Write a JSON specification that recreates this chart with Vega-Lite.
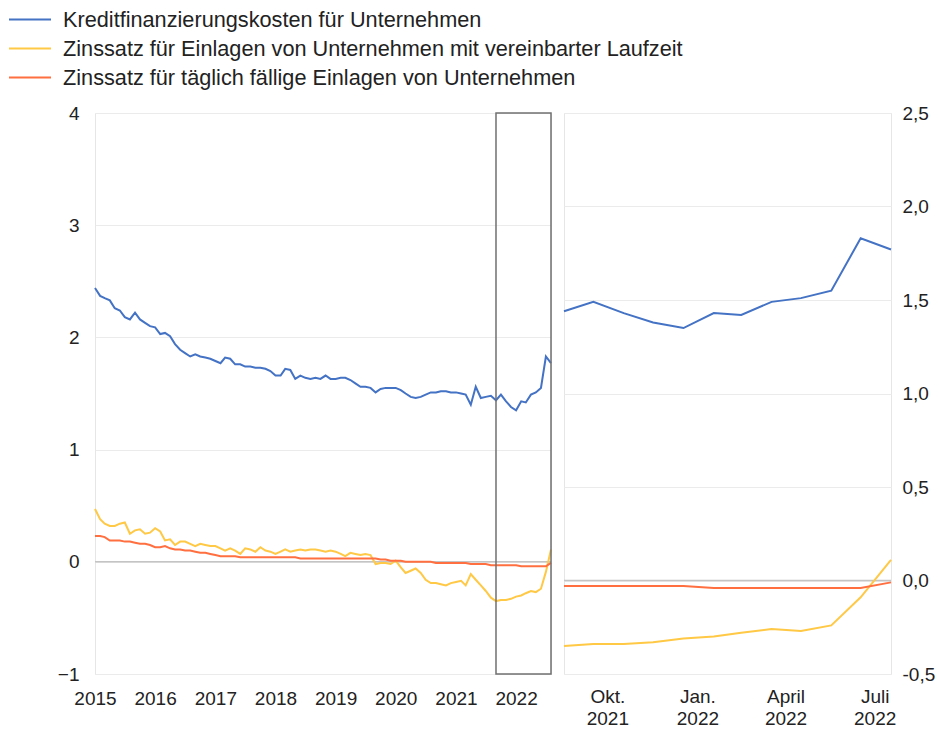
{
  "$schema": "https://vega.github.io/schema/vega-lite/v6.json",
  "padding": {"left": 7, "top": 4, "right": 5, "bottom": 0},
  "background": "white",
  "bounds": "flush",
  "spacing": 13,
  "config": {
    "font": "Liberation Sans",
    "view": {"stroke": "#e6e6e6", "strokeWidth": 1},
    "axis": {"labelFont": "Liberation Sans", "labelFontSize": 19, "labelColor": "#222222", "ticks": false, "domain": false, "gridColor": "#ebebeb", "gridWidth": 1, "title": null}
  },
  "datasets": {
    "rates": [
      {"date":"2015/01/01","k":2.44,"z":0.47,"t":0.23},
      {"date":"2015/02/01","k":2.37,"z":0.38,"t":0.23},
      {"date":"2015/03/01","k":2.35,"z":0.34,"t":0.22},
      {"date":"2015/04/01","k":2.33,"z":0.32,"t":0.19},
      {"date":"2015/05/01","k":2.26,"z":0.32,"t":0.19},
      {"date":"2015/06/01","k":2.24,"z":0.34,"t":0.19},
      {"date":"2015/07/01","k":2.18,"z":0.35,"t":0.18},
      {"date":"2015/08/01","k":2.16,"z":0.25,"t":0.18},
      {"date":"2015/09/01","k":2.22,"z":0.28,"t":0.17},
      {"date":"2015/10/01","k":2.16,"z":0.29,"t":0.16},
      {"date":"2015/11/01","k":2.13,"z":0.25,"t":0.16},
      {"date":"2015/12/01","k":2.10,"z":0.26,"t":0.15},
      {"date":"2016/01/01","k":2.09,"z":0.30,"t":0.13},
      {"date":"2016/02/01","k":2.03,"z":0.27,"t":0.13},
      {"date":"2016/03/01","k":2.04,"z":0.19,"t":0.14},
      {"date":"2016/04/01","k":2.01,"z":0.20,"t":0.12},
      {"date":"2016/05/01","k":1.94,"z":0.15,"t":0.11},
      {"date":"2016/06/01","k":1.89,"z":0.18,"t":0.11},
      {"date":"2016/07/01","k":1.86,"z":0.18,"t":0.10},
      {"date":"2016/08/01","k":1.83,"z":0.16,"t":0.10},
      {"date":"2016/09/01","k":1.85,"z":0.14,"t":0.09},
      {"date":"2016/10/01","k":1.83,"z":0.16,"t":0.08},
      {"date":"2016/11/01","k":1.82,"z":0.15,"t":0.08},
      {"date":"2016/12/01","k":1.81,"z":0.14,"t":0.07},
      {"date":"2017/01/01","k":1.79,"z":0.14,"t":0.06},
      {"date":"2017/02/01","k":1.77,"z":0.12,"t":0.05},
      {"date":"2017/03/01","k":1.82,"z":0.10,"t":0.05},
      {"date":"2017/04/01","k":1.81,"z":0.12,"t":0.05},
      {"date":"2017/05/01","k":1.76,"z":0.10,"t":0.05},
      {"date":"2017/06/01","k":1.76,"z":0.07,"t":0.04},
      {"date":"2017/07/01","k":1.74,"z":0.12,"t":0.04},
      {"date":"2017/08/01","k":1.74,"z":0.11,"t":0.04},
      {"date":"2017/09/01","k":1.73,"z":0.09,"t":0.04},
      {"date":"2017/10/01","k":1.73,"z":0.13,"t":0.04},
      {"date":"2017/11/01","k":1.72,"z":0.10,"t":0.04},
      {"date":"2017/12/01","k":1.70,"z":0.09,"t":0.04},
      {"date":"2018/01/01","k":1.66,"z":0.07,"t":0.04},
      {"date":"2018/02/01","k":1.66,"z":0.09,"t":0.04},
      {"date":"2018/03/01","k":1.72,"z":0.11,"t":0.04},
      {"date":"2018/04/01","k":1.71,"z":0.09,"t":0.04},
      {"date":"2018/05/01","k":1.63,"z":0.10,"t":0.04},
      {"date":"2018/06/01","k":1.66,"z":0.11,"t":0.03},
      {"date":"2018/07/01","k":1.64,"z":0.10,"t":0.03},
      {"date":"2018/08/01","k":1.63,"z":0.11,"t":0.03},
      {"date":"2018/09/01","k":1.64,"z":0.11,"t":0.03},
      {"date":"2018/10/01","k":1.63,"z":0.10,"t":0.03},
      {"date":"2018/11/01","k":1.66,"z":0.09,"t":0.03},
      {"date":"2018/12/01","k":1.63,"z":0.10,"t":0.03},
      {"date":"2019/01/01","k":1.63,"z":0.09,"t":0.03},
      {"date":"2019/02/01","k":1.64,"z":0.07,"t":0.03},
      {"date":"2019/03/01","k":1.64,"z":0.05,"t":0.03},
      {"date":"2019/04/01","k":1.62,"z":0.08,"t":0.03},
      {"date":"2019/05/01","k":1.59,"z":0.07,"t":0.03},
      {"date":"2019/06/01","k":1.56,"z":0.06,"t":0.03},
      {"date":"2019/07/01","k":1.56,"z":0.07,"t":0.03},
      {"date":"2019/08/01","k":1.55,"z":0.06,"t":0.03},
      {"date":"2019/09/01","k":1.51,"z":-0.02,"t":0.03},
      {"date":"2019/10/01","k":1.54,"z":-0.01,"t":0.02},
      {"date":"2019/11/01","k":1.55,"z":-0.01,"t":0.02},
      {"date":"2019/12/01","k":1.55,"z":-0.02,"t":0.01},
      {"date":"2020/01/01","k":1.55,"z":0.01,"t":0.01},
      {"date":"2020/02/01","k":1.53,"z":-0.05,"t":0.01},
      {"date":"2020/03/01","k":1.50,"z":-0.10,"t":0.00},
      {"date":"2020/04/01","k":1.47,"z":-0.08,"t":0.00},
      {"date":"2020/05/01","k":1.46,"z":-0.06,"t":0.00},
      {"date":"2020/06/01","k":1.47,"z":-0.10,"t":0.00},
      {"date":"2020/07/01","k":1.49,"z":-0.16,"t":0.00},
      {"date":"2020/08/01","k":1.51,"z":-0.19,"t":0.00},
      {"date":"2020/09/01","k":1.51,"z":-0.19,"t":-0.01},
      {"date":"2020/10/01","k":1.52,"z":-0.20,"t":-0.01},
      {"date":"2020/11/01","k":1.52,"z":-0.21,"t":-0.01},
      {"date":"2020/12/01","k":1.51,"z":-0.19,"t":-0.01},
      {"date":"2021/01/01","k":1.51,"z":-0.18,"t":-0.01},
      {"date":"2021/02/01","k":1.50,"z":-0.17,"t":-0.01},
      {"date":"2021/03/01","k":1.49,"z":-0.21,"t":-0.01},
      {"date":"2021/04/01","k":1.40,"z":-0.11,"t":-0.02},
      {"date":"2021/05/01","k":1.56,"z":-0.16,"t":-0.02},
      {"date":"2021/06/01","k":1.46,"z":-0.21,"t":-0.02},
      {"date":"2021/07/01","k":1.47,"z":-0.26,"t":-0.02},
      {"date":"2021/08/01","k":1.48,"z":-0.32,"t":-0.03},
      {"date":"2021/09/01","k":1.44,"z":-0.35,"t":-0.03},
      {"date":"2021/10/01","k":1.49,"z":-0.34,"t":-0.03},
      {"date":"2021/11/01","k":1.43,"z":-0.34,"t":-0.03},
      {"date":"2021/12/01","k":1.38,"z":-0.33,"t":-0.03},
      {"date":"2022/01/01","k":1.35,"z":-0.31,"t":-0.03},
      {"date":"2022/02/01","k":1.43,"z":-0.30,"t":-0.04},
      {"date":"2022/03/01","k":1.42,"z":-0.28,"t":-0.04},
      {"date":"2022/04/01","k":1.49,"z":-0.26,"t":-0.04},
      {"date":"2022/05/01","k":1.51,"z":-0.27,"t":-0.04},
      {"date":"2022/06/01","k":1.55,"z":-0.24,"t":-0.04},
      {"date":"2022/07/01","k":1.83,"z":-0.09,"t":-0.04},
      {"date":"2022/08/01","k":1.77,"z":0.11,"t":-0.01}
    ],
    "box": [{"x0":"2021/09/01","x1":"2022/08/01","y0":-1,"y1":4}],
    "zero": [{"v":0}]
  },
  "resolve": {"scale": {"color": "independent"}, "legend": {"color": "independent"}},
  "hconcat": [
    {
      "width": 456,
      "height": 561,
      "layer": [
        {
          "data": {"name": "zero"},
          "mark": {"type": "rule", "color": "#c4c4c4", "strokeWidth": 1.5},
          "encoding": {"y": {"field": "v", "type": "quantitative", "scale": {"domain": [-1, 4], "nice": false}}}
        },
        {
          "data": {"name": "rates"},
          "transform": [{"fold": ["k", "z", "t"], "as": ["key", "value"]}],
          "mark": {"type": "line", "strokeWidth": 2},
          "encoding": {
            "x": {"field": "date", "type": "temporal",
                  "scale": {"domain": [{"year": 2015, "month": 1, "date": 1}, {"year": 2022, "month": 8, "date": 1}], "nice": false},
                  "axis": {"values": [{"year": 2015, "month": 1, "date": 1}, {"year": 2016, "month": 1, "date": 1}, {"year": 2017, "month": 1, "date": 1}, {"year": 2018, "month": 1, "date": 1}, {"year": 2019, "month": 1, "date": 1}, {"year": 2020, "month": 1, "date": 1}, {"year": 2021, "month": 1, "date": 1}, {"year": 2022, "month": 1, "date": 1}],
                           "format": "%Y", "grid": false, "labelPadding": 15, "labelFlush": false, "labelOverlap": false}},
            "y": {"field": "value", "type": "quantitative",
                  "scale": {"domain": [-1, 4], "nice": false},
                  "axis": {"values": [-1, 0, 1, 2, 3, 4], "format": "d", "grid": true, "labelPadding": 16}},
            "color": {"field": "key", "type": "nominal",
                      "scale": {"domain": ["k", "z", "t"], "range": ["#4472c4", "#ffc845", "#ff6f40"]},
                      "legend": {"orient": "none", "legendX": -87, "legendY": -108, "title": null,
                                 "symbolType": "stroke", "symbolSize": 1764, "symbolStrokeWidth": 2,
                                 "labelFontSize": 21.7, "labelFont": "Liberation Sans", "labelColor": "#222222", "labelOffset": 11, "labelLimit": 0,
                                 "clipHeight": 29, "rowPadding": 0,
                                 "labelExpr": "datum.value == 'k' ? 'Kreditfinanzierungskosten für Unternehmen' : datum.value == 'z' ? 'Zinssatz für Einlagen von Unternehmen mit vereinbarter Laufzeit' : 'Zinssatz für täglich fällige Einlagen von Unternehmen'"}}
          }
        },
        {
          "data": {"name": "box"},
          "mark": {"type": "rect", "fill": "transparent", "stroke": "#707070", "strokeWidth": 1.5},
          "encoding": {
            "x": {"field": "x0", "type": "temporal"},
            "x2": {"field": "x1"},
            "y": {"field": "y0", "type": "quantitative"},
            "y2": {"field": "y1"}
          }
        }
      ]
    },
    {
      "width": 327,
      "height": 561,
      "layer": [
        {
          "data": {"name": "zero"},
          "mark": {"type": "rule", "color": "#c4c4c4", "strokeWidth": 1.5},
          "encoding": {"y": {"field": "v", "type": "quantitative", "scale": {"domain": [-0.5, 2.5], "nice": false}}}
        },
        {
          "data": {"name": "rates"},
          "transform": [
            {"filter": {"field": "date", "gte": {"year": 2021, "month": 9, "date": 1}}},
            {"fold": ["k", "z", "t"], "as": ["key", "value"]}
          ],
          "mark": {"type": "line", "strokeWidth": 2},
          "encoding": {
            "x": {"field": "date", "type": "temporal",
                  "scale": {"domain": [{"year": 2021, "month": 9, "date": 1}, {"year": 2022, "month": 8, "date": 1}], "nice": false},
                  "axis": {"values": [{"year": 2021, "month": 10, "date": 1}, {"year": 2022, "month": 1, "date": 1}, {"year": 2022, "month": 4, "date": 1}, {"year": 2022, "month": 7, "date": 1}],
                           "grid": false, "labelPadding": 13, "labelOffset": 14, "labelLineHeight": 22, "labelFlush": false, "labelOverlap": false,
                           "labelExpr": "[month(datum.value) == 9 ? 'Okt.' : month(datum.value) == 0 ? 'Jan.' : month(datum.value) == 3 ? 'April' : 'Juli', timeFormat(datum.value, '%Y')]"}},
            "y": {"field": "value", "type": "quantitative",
                  "scale": {"domain": [-0.5, 2.5], "nice": false},
                  "axis": {"orient": "right", "values": [-0.5, 0, 0.5, 1, 1.5, 2, 2.5], "grid": true, "labelPadding": 11,
                           "labelExpr": "replace(replace(format(datum.value, '.1f'), '.', ','), '−', '-')"}},
            "color": {"field": "key", "type": "nominal",
                      "scale": {"domain": ["k", "z", "t"], "range": ["#4472c4", "#ffc845", "#ff6f40"]},
                      "legend": null}
          }
        }
      ]
    }
  ]
}
